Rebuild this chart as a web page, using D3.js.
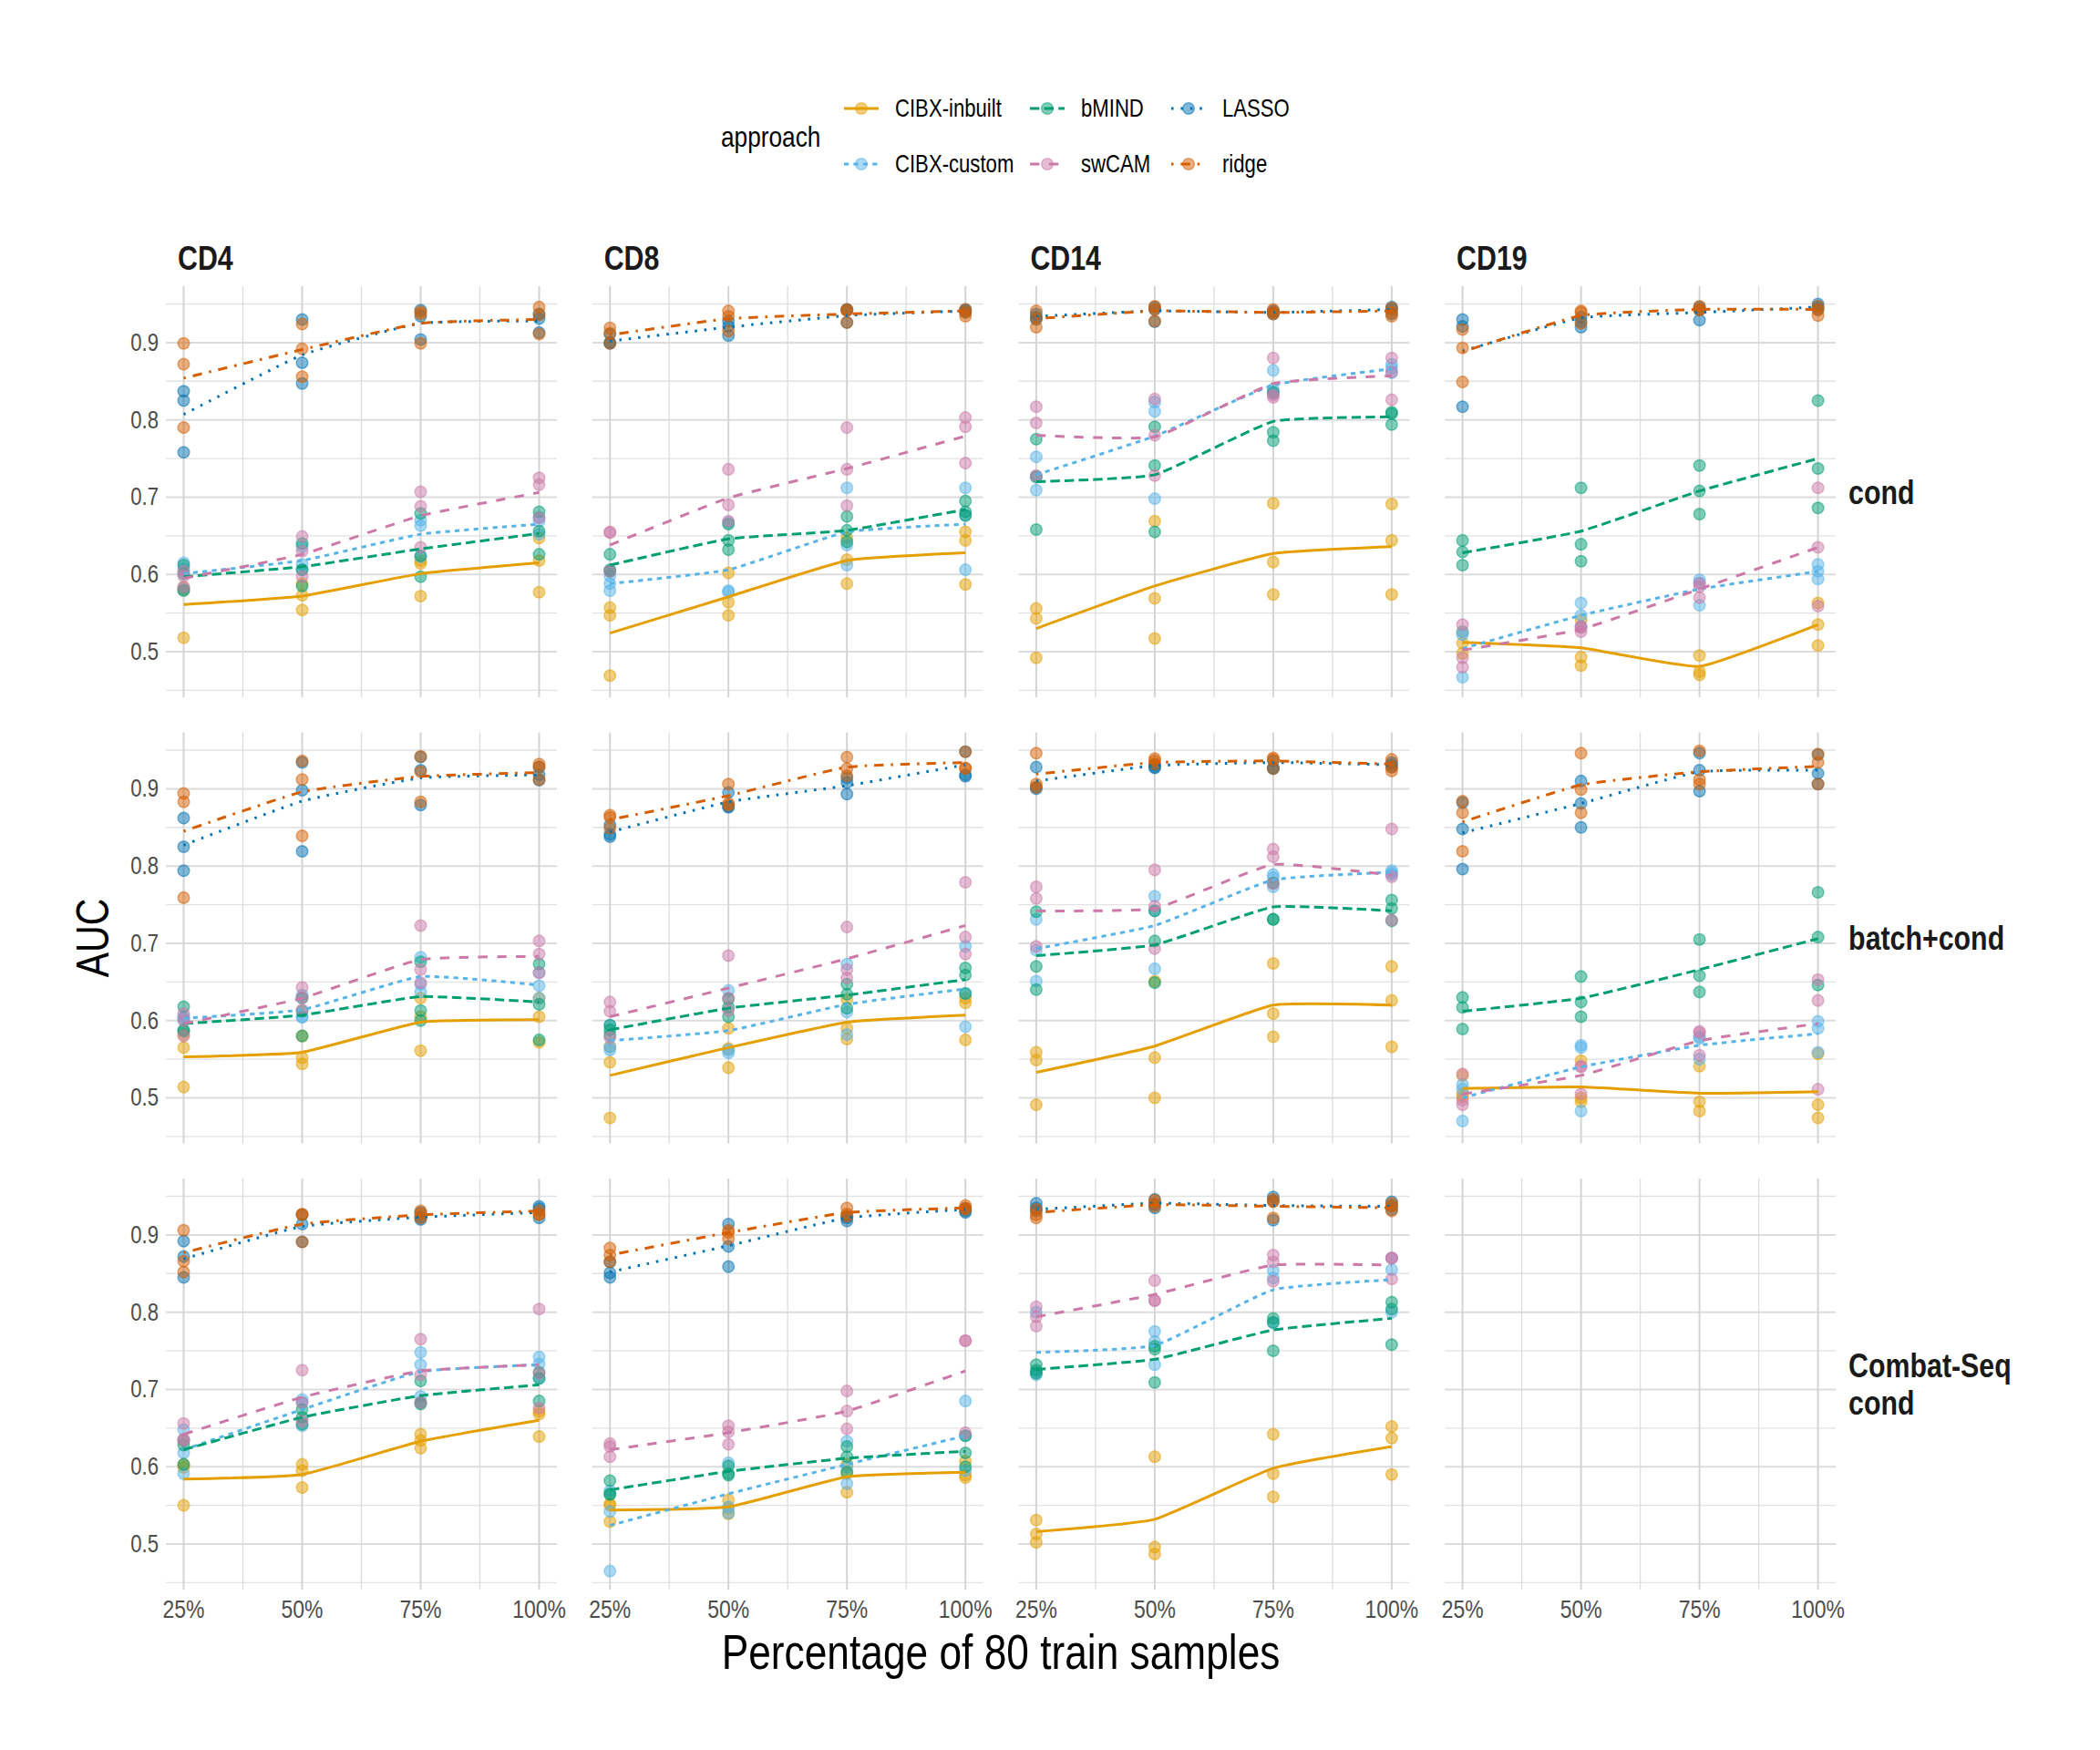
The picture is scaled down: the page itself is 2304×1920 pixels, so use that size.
<!DOCTYPE html>
<html>
<head>
<meta charset="utf-8">
<script src="https://cdn.jsdelivr.net/npm/d3@7"></script>
<style>
    body { margin: 0; background: #fff; }
    svg text { font-family: 'Liberation Sans Narrow', 'Arial Narrow', 'Liberation Sans', sans-serif; }
</style>
</head>
<body>
<svg id="chart" width="2304" height="1920"></svg>
<script>
const approaches = ['CIBX-inbuilt', 'CIBX-custom', 'bMIND', 'swCAM', 'LASSO', 'ridge'];
const cellTypes = ['CD4', 'CD8', 'CD14', 'CD19'];
const corrections = ['cond', 'batch+cond', 'Combat-Seq\ncond'];
const trainPct = [25, 50, 75, 100];
const xTickLabels = ['25%', '50%', '75%', '100%'];
const yTicks = [0.5, 0.6, 0.7, 0.8, 0.9];

// rows follow `approaches`; Mean = mean AUC per train size, Runs = replicate AUCs per train size
const condCD4Mean = [[0.561, 0.572, 0.601, 0.615], [0.601, 0.618, 0.652, 0.665], [0.597, 0.610, 0.633, 0.653],
    [0.595, 0.626, 0.676, 0.706], [0.807, 0.884, 0.925, 0.928], [0.854, 0.891, 0.925, 0.930]];
const condCD4Runs = [
    [[0.583, 0.580, 0.518], [0.588, 0.573, 0.554], [0.618, 0.614, 0.572], [0.647, 0.618, 0.577]],
    [[0.615, 0.607, 0.581], [0.613, 0.606, 0.636], [0.670, 0.663, 0.623], [0.674, 0.669, 0.652]],
    [[0.612, 0.579, 0.601], [0.640, 0.606, 0.585], [0.679, 0.597, 0.624], [0.681, 0.656, 0.626]],
    [[0.604, 0.598, 0.584], [0.649, 0.630, 0.597], [0.707, 0.688, 0.635], [0.725, 0.716, 0.673]],
    [[0.837, 0.825, 0.758], [0.930, 0.874, 0.847], [0.942, 0.934, 0.904], [0.937, 0.931, 0.913]],
    [[0.899, 0.872, 0.790], [0.924, 0.892, 0.856], [0.940, 0.937, 0.899], [0.946, 0.936, 0.911]]];

const condCD8Mean = [[0.524, 0.571, 0.618, 0.628], [0.588, 0.606, 0.655, 0.665], [0.612, 0.646, 0.657, 0.684],
    [0.638, 0.699, 0.737, 0.779], [0.902, 0.920, 0.935, 0.941], [0.910, 0.931, 0.937, 0.941]];
const condCD8Runs = [
    [[0.557, 0.547, 0.469], [0.602, 0.564, 0.547], [0.647, 0.619, 0.588], [0.655, 0.644, 0.587]],
    [[0.598, 0.588, 0.579], [0.667, 0.579, 0.577], [0.712, 0.638, 0.612], [0.712, 0.677, 0.606]],
    [[0.626, 0.606, 0.604], [0.665, 0.644, 0.632], [0.675, 0.657, 0.642], [0.695, 0.681, 0.676]],
    [[0.655, 0.654, 0.604], [0.736, 0.690, 0.669], [0.790, 0.736, 0.689], [0.803, 0.791, 0.744]],
    [[0.900, 0.899, 0.911], [0.928, 0.921, 0.909], [0.943, 0.942, 0.926], [0.943, 0.941, 0.939]],
    [[0.919, 0.912, 0.899], [0.941, 0.934, 0.915], [0.943, 0.941, 0.926], [0.943, 0.939, 0.934]]];

const condCD14Mean = [[0.530, 0.585, 0.627, 0.636], [0.729, 0.779, 0.845, 0.866], [0.720, 0.729, 0.798, 0.804],
    [0.780, 0.778, 0.847, 0.857], [0.934, 0.941, 0.939, 0.943], [0.931, 0.941, 0.939, 0.941]];
const condCD14Runs = [
    [[0.556, 0.543, 0.492], [0.669, 0.569, 0.517], [0.692, 0.616, 0.574], [0.691, 0.644, 0.574]],
    [[0.752, 0.727, 0.709], [0.823, 0.811, 0.698], [0.864, 0.840, 0.834], [0.872, 0.867, 0.861]],
    [[0.775, 0.726, 0.658], [0.791, 0.741, 0.655], [0.836, 0.784, 0.773], [0.810, 0.808, 0.794]],
    [[0.817, 0.796, 0.728], [0.827, 0.780, 0.728], [0.880, 0.832, 0.829], [0.880, 0.862, 0.826]],
    [[0.937, 0.933, 0.930], [0.946, 0.943, 0.927], [0.941, 0.939, 0.937], [0.946, 0.943, 0.937]],
    [[0.941, 0.931, 0.920], [0.947, 0.943, 0.928], [0.943, 0.939, 0.937], [0.945, 0.939, 0.934]]];

const condCD19Mean = [[0.512, 0.505, 0.481, 0.535], [0.504, 0.547, 0.581, 0.604], [0.628, 0.656, 0.708, 0.750],
    [0.502, 0.529, 0.581, 0.635], [0.889, 0.932, 0.939, 0.946], [0.888, 0.935, 0.943, 0.943]];
const condCD19Runs = [
    [[0.526, 0.511, 0.498], [0.541, 0.493, 0.482], [0.495, 0.474, 0.470], [0.563, 0.535, 0.508]],
    [[0.526, 0.522, 0.467], [0.563, 0.547, 0.532], [0.593, 0.589, 0.560], [0.613, 0.604, 0.594]],
    [[0.644, 0.629, 0.612], [0.712, 0.639, 0.617], [0.741, 0.708, 0.678], [0.825, 0.737, 0.686]],
    [[0.535, 0.492, 0.480], [0.533, 0.531, 0.526], [0.588, 0.584, 0.570], [0.712, 0.635, 0.559]],
    [[0.930, 0.921, 0.817], [0.933, 0.927, 0.920], [0.946, 0.943, 0.929], [0.950, 0.946, 0.943]],
    [[0.917, 0.893, 0.849], [0.941, 0.939, 0.925], [0.947, 0.943, 0.942], [0.947, 0.942, 0.935]]];

const batchCD4Mean = [[0.553, 0.559, 0.598, 0.601], [0.603, 0.614, 0.657, 0.646], [0.596, 0.607, 0.631, 0.624],
    [0.596, 0.629, 0.679, 0.683], [0.827, 0.884, 0.914, 0.918], [0.845, 0.896, 0.916, 0.921]];
const batchCD4Runs = [
    [[0.582, 0.565, 0.514], [0.580, 0.552, 0.544], [0.629, 0.605, 0.561], [0.629, 0.605, 0.572]],
    [[0.605, 0.603, 0.602], [0.633, 0.605, 0.604], [0.682, 0.637, 0.647], [0.662, 0.645, 0.629]],
    [[0.618, 0.588, 0.586], [0.629, 0.612, 0.580], [0.676, 0.613, 0.600], [0.673, 0.621, 0.575]],
    [[0.609, 0.600, 0.580], [0.643, 0.630, 0.614], [0.723, 0.666, 0.649], [0.703, 0.686, 0.662]],
    [[0.862, 0.825, 0.794], [0.934, 0.898, 0.819], [0.941, 0.924, 0.879], [0.928, 0.918, 0.911]],
    [[0.894, 0.883, 0.759], [0.936, 0.912, 0.839], [0.942, 0.922, 0.883], [0.932, 0.928, 0.912]]];

const batchCD8Mean = [[0.529, 0.565, 0.598, 0.607], [0.574, 0.587, 0.621, 0.641], [0.588, 0.616, 0.633, 0.653],
    [0.605, 0.642, 0.680, 0.723], [0.844, 0.883, 0.904, 0.931], [0.860, 0.891, 0.928, 0.934]];
const batchCD8Runs = [
    [[0.566, 0.546, 0.474], [0.590, 0.564, 0.539], [0.627, 0.590, 0.576], [0.629, 0.623, 0.575]],
    [[0.594, 0.562, 0.566], [0.639, 0.558, 0.562], [0.673, 0.611, 0.582], [0.696, 0.635, 0.592]],
    [[0.594, 0.588, 0.581], [0.628, 0.617, 0.605], [0.647, 0.634, 0.616], [0.668, 0.659, 0.635]],
    [[0.624, 0.612, 0.578], [0.684, 0.629, 0.613], [0.721, 0.666, 0.655], [0.779, 0.708, 0.686]],
    [[0.853, 0.841, 0.838], [0.895, 0.877, 0.876], [0.914, 0.908, 0.893], [0.948, 0.918, 0.916]],
    [[0.866, 0.863, 0.849], [0.906, 0.881, 0.879], [0.941, 0.926, 0.917], [0.948, 0.927, 0.926]]];

const batchCD14Mean = [[0.533, 0.567, 0.620, 0.620], [0.693, 0.723, 0.782, 0.792], [0.684, 0.698, 0.747, 0.742],
    [0.742, 0.745, 0.802, 0.788], [0.910, 0.930, 0.934, 0.931], [0.919, 0.934, 0.936, 0.932]];
const batchCD14Runs = [
    [[0.559, 0.549, 0.491], [0.651, 0.552, 0.500], [0.674, 0.609, 0.579], [0.670, 0.626, 0.566]],
    [[0.731, 0.691, 0.651], [0.761, 0.742, 0.667], [0.789, 0.785, 0.773], [0.794, 0.791, 0.789]],
    [[0.741, 0.670, 0.640], [0.742, 0.703, 0.649], [0.778, 0.731, 0.731], [0.756, 0.745, 0.729]],
    [[0.773, 0.758, 0.696], [0.795, 0.748, 0.693], [0.822, 0.812, 0.777], [0.848, 0.786, 0.730]],
    [[0.928, 0.902, 0.900], [0.931, 0.928, 0.927], [0.936, 0.927, 0.926], [0.934, 0.931, 0.928]],
    [[0.946, 0.906, 0.902], [0.939, 0.936, 0.932], [0.940, 0.938, 0.926], [0.938, 0.928, 0.923]]];

const batchCD19Mean = [[0.512, 0.514, 0.506, 0.508], [0.500, 0.540, 0.568, 0.583], [0.612, 0.629, 0.666, 0.706],
    [0.505, 0.529, 0.574, 0.596], [0.843, 0.881, 0.922, 0.924], [0.857, 0.905, 0.922, 0.929]];
const batchCD19Runs = [
    [[0.529, 0.505, 0.501], [0.548, 0.500, 0.495], [0.541, 0.495, 0.483], [0.557, 0.491, 0.474]],
    [[0.517, 0.511, 0.470], [0.568, 0.565, 0.483], [0.579, 0.577, 0.550], [0.599, 0.590, 0.559]],
    [[0.630, 0.617, 0.589], [0.657, 0.624, 0.605], [0.705, 0.658, 0.637], [0.766, 0.708, 0.646]],
    [[0.531, 0.497, 0.491], [0.541, 0.540, 0.505], [0.586, 0.584, 0.555], [0.653, 0.626, 0.511]],
    [[0.882, 0.848, 0.796], [0.910, 0.881, 0.850], [0.946, 0.924, 0.897], [0.944, 0.920, 0.906]],
    [[0.884, 0.869, 0.819], [0.946, 0.899, 0.869], [0.949, 0.912, 0.906], [0.945, 0.934, 0.906]]];

const combatCD4Mean = [[0.584, 0.590, 0.633, 0.660], [0.622, 0.674, 0.723, 0.732], [0.622, 0.664, 0.692, 0.706],
    [0.642, 0.690, 0.724, 0.732], [0.869, 0.911, 0.923, 0.929], [0.877, 0.914, 0.926, 0.931]];
const combatCD4Runs = [
    [[0.603, 0.599, 0.550], [0.603, 0.595, 0.573], [0.642, 0.634, 0.624], [0.672, 0.668, 0.639]],
    [[0.648, 0.618, 0.591], [0.687, 0.683, 0.653], [0.748, 0.732, 0.691], [0.742, 0.733, 0.715]],
    [[0.634, 0.628, 0.603], [0.674, 0.664, 0.655], [0.711, 0.683, 0.681], [0.722, 0.714, 0.685]],
    [[0.656, 0.636, 0.634], [0.725, 0.683, 0.659], [0.765, 0.719, 0.683], [0.804, 0.721, 0.676]],
    [[0.892, 0.872, 0.845], [0.926, 0.914, 0.891], [0.929, 0.923, 0.920], [0.937, 0.934, 0.922]],
    [[0.906, 0.866, 0.852], [0.927, 0.926, 0.891], [0.931, 0.927, 0.922], [0.931, 0.927, 0.926]]];

const combatCD8Mean = [[0.544, 0.548, 0.587, 0.593], [0.524, 0.565, 0.603, 0.640], [0.570, 0.594, 0.611, 0.620],
    [0.622, 0.644, 0.672, 0.724], [0.852, 0.886, 0.922, 0.933], [0.874, 0.903, 0.929, 0.935]];
const combatCD8Runs = [
    [[0.552, 0.550, 0.529], [0.557, 0.546, 0.539], [0.603, 0.591, 0.567], [0.607, 0.589, 0.586]],
    [[0.569, 0.542, 0.465], [0.605, 0.548, 0.540], [0.633, 0.600, 0.578], [0.685, 0.640, 0.595]],
    [[0.582, 0.565, 0.564], [0.601, 0.591, 0.589], [0.626, 0.613, 0.593], [0.640, 0.618, 0.600]],
    [[0.630, 0.626, 0.613], [0.653, 0.645, 0.629], [0.698, 0.672, 0.649], [0.763, 0.763, 0.644]],
    [[0.865, 0.851, 0.845], [0.914, 0.885, 0.859], [0.924, 0.922, 0.918], [0.934, 0.931, 0.929]],
    [[0.883, 0.874, 0.865], [0.906, 0.903, 0.895], [0.935, 0.927, 0.924], [0.938, 0.935, 0.933]]];

const combatCD14Mean = [[0.516, 0.532, 0.598, 0.626], [0.748, 0.757, 0.829, 0.842], [0.726, 0.739, 0.777, 0.792],
    [0.794, 0.823, 0.861, 0.861], [0.933, 0.941, 0.938, 0.937], [0.929, 0.939, 0.937, 0.935]];
const combatCD14Runs = [
    [[0.531, 0.513, 0.502], [0.613, 0.496, 0.487], [0.642, 0.591, 0.561], [0.652, 0.637, 0.590]],
    [[0.800, 0.722, 0.719], [0.775, 0.762, 0.732], [0.854, 0.844, 0.786], [0.870, 0.855, 0.800]],
    [[0.732, 0.725, 0.721], [0.756, 0.752, 0.709], [0.792, 0.787, 0.750], [0.813, 0.804, 0.758]],
    [[0.807, 0.794, 0.782], [0.841, 0.815, 0.815], [0.874, 0.865, 0.840], [0.870, 0.870, 0.843]],
    [[0.941, 0.935, 0.931], [0.946, 0.939, 0.935], [0.949, 0.944, 0.919], [0.943, 0.938, 0.933]],
    [[0.933, 0.926, 0.922], [0.945, 0.941, 0.937], [0.946, 0.943, 0.922], [0.941, 0.937, 0.931]]];

// facet cells: row = correction, col = cell type (Combat-Seq / CD19 has no data)
const panels = [
    { row: 0, col: 0, mean: condCD4Mean, runs: condCD4Runs },
    { row: 0, col: 1, mean: condCD8Mean, runs: condCD8Runs },
    { row: 0, col: 2, mean: condCD14Mean, runs: condCD14Runs },
    { row: 0, col: 3, mean: condCD19Mean, runs: condCD19Runs },
    { row: 1, col: 0, mean: batchCD4Mean, runs: batchCD4Runs },
    { row: 1, col: 1, mean: batchCD8Mean, runs: batchCD8Runs },
    { row: 1, col: 2, mean: batchCD14Mean, runs: batchCD14Runs },
    { row: 1, col: 3, mean: batchCD19Mean, runs: batchCD19Runs },
    { row: 2, col: 0, mean: combatCD4Mean, runs: combatCD4Runs },
    { row: 2, col: 1, mean: combatCD8Mean, runs: combatCD8Runs },
    { row: 2, col: 2, mean: combatCD14Mean, runs: combatCD14Runs },
];

// styling
const colors = ['#E69F00', '#56B4E9', '#009E73', '#CC79A7', '#0072B2', '#D55E00'];
const dashUnit = 2.6;
const dashes = [[], [2, 2], [4, 2], [4, 4], [1, 3], [1, 3, 4, 3]].map((d) => d.map((v) => v * dashUnit).join(' '));
// no narrow font installed: squeeze text horizontally instead
const narrow = 'scale(0.82,1)';

const panelW = 429;
const panelH = 451;
const left0 = 182;
const top0 = 314;
const colStep = 467.7;
const rowStep = 489.5;

const xScale = d3.scaleLinear().domain([21.25, 103.75]).range([0, panelW]);
const yScale = d3.scaleLinear().domain([0.441, 0.973]).range([panelH, 0]);

const svg = d3.select('#chart');
svg.append('rect').attr('width', 2304).attr('height', 1920).attr('fill', '#fff');

const line = d3
    .line()
    .x((d) => xScale(d[0]))
    .y((d) => yScale(d[1]))
    .curve(d3.curveCardinal.tension(0.6));

const minorY = d3.range(0.45, 0.96, 0.1);
const minorX = [37.5, 62.5, 87.5];

// draw every cell of the grid (also the empty one)
for (let r = 0; r < corrections.length; r++) {
    for (let c = 0; c < cellTypes.length; c++) {
        const g = svg
            .append('g')
            .attr('class', 'panel')
            .attr('transform', `translate(${left0 + c * colStep},${top0 + r * rowStep})`);

        // grid lines
        g.selectAll('line.minor-y').data(minorY).join('line')
            .attr('x1', 0).attr('x2', panelW)
            .attr('y1', (d) => yScale(d)).attr('y2', (d) => yScale(d))
            .attr('stroke', '#e2e2e2').attr('stroke-width', 1.3);
        g.selectAll('line.minor-x').data(minorX).join('line')
            .attr('y1', 0).attr('y2', panelH)
            .attr('x1', (d) => xScale(d)).attr('x2', (d) => xScale(d))
            .attr('stroke', '#dcdcdc').attr('stroke-width', 1.3);
        g.selectAll('line.major-y').data(yTicks).join('line')
            .attr('x1', 0).attr('x2', panelW)
            .attr('y1', (d) => yScale(d)).attr('y2', (d) => yScale(d))
            .attr('stroke', '#dcdcdc').attr('stroke-width', 2);
        g.selectAll('line.major-x').data(trainPct).join('line')
            .attr('y1', 0).attr('y2', panelH)
            .attr('x1', (d) => xScale(d)).attr('x2', (d) => xScale(d))
            .attr('stroke', '#d4d4d4').attr('stroke-width', 2);

        // y tick labels on the first column
        if (c === 0) {
            g.selectAll('text.ytick').data(yTicks).join('text')
                .attr('transform', (d) => `translate(-8,${yScale(d) + 9}) ${narrow}`)
                .attr('text-anchor', 'end')
                .attr('font-size', '27px')
                .attr('fill', '#4d4d4d')
                .text((d) => d.toFixed(1));
        }

        // x tick labels on the bottom row
        if (r === corrections.length - 1) {
            g.selectAll('text.xtick').data(trainPct).join('text')
                .attr('transform', (d) => `translate(${xScale(d)},${panelH + 31}) ${narrow}`)
                .attr('text-anchor', 'middle')
                .attr('font-size', '28px')
                .attr('fill', '#4d4d4d')
                .text((d, i) => xTickLabels[i]);
        }

        // column strip
        if (r === 0) {
            g.append('text')
                .attr('transform', `translate(13,-18) ${narrow}`)
                .attr('font-size', '37px')
                .attr('font-weight', 'bold')
                .attr('fill', '#1a1a1a')
                .text(cellTypes[c]);
        }

        // row strip
        if (c === cellTypes.length - 1) {
            const parts = corrections[r].split('\n');
            g.append('text')
                .attr('transform', `translate(${panelW + 14},${panelH / 2 + 13 - ((parts.length - 1) * 42) / 2}) ${narrow}`)
                .attr('font-size', '37px')
                .attr('font-weight', 'bold')
                .attr('fill', '#1a1a1a')
                .selectAll('tspan')
                .data(parts)
                .join('tspan')
                .attr('x', 0)
                .attr('dy', (d, i) => (i === 0 ? 0 : 42))
                .text((d) => d);
        }
    }
}

// points and mean lines
panels.forEach((p) => {
    const g = svg
        .append('g')
        .attr('transform', `translate(${left0 + p.col * colStep},${top0 + p.row * rowStep})`);

    approaches.forEach((a, i) => {
        const pts = [];
        p.runs[i].forEach((vals, j) => vals.forEach((v) => pts.push([trainPct[j], v])));
        g.selectAll(null).data(pts).join('circle')
            .attr('cx', (d) => xScale(d[0]))
            .attr('cy', (d) => yScale(d[1]))
            .attr('r', 6.3)
            .attr('fill', colors[i])
            .attr('fill-opacity', 0.5)
            .attr('stroke', colors[i])
            .attr('stroke-opacity', 0.5)
            .attr('stroke-width', 1.5);
    });

    approaches.forEach((a, i) => {
        g.append('path')
            .datum(trainPct.map((t, j) => [t, p.mean[i][j]]))
            .attr('d', line)
            .attr('fill', 'none')
            .attr('stroke', colors[i])
            .attr('stroke-width', 3)
            .attr('stroke-dasharray', dashes[i]);
    });
});

// axis titles
svg.append('text')
    .attr('transform', `translate(${left0 + (3 * colStep + panelW) / 2},1831) ${narrow}`)
    .attr('text-anchor', 'middle')
    .attr('font-size', '54px')
    .attr('fill', '#000')
    .text('Percentage of 80 train samples');

svg.append('text')
    .attr('transform', `translate(119,${top0 + (2 * rowStep + panelH) / 2}) rotate(-90) ${narrow}`)
    .attr('text-anchor', 'middle')
    .attr('font-size', '50px')
    .attr('fill', '#000')
    .text('AUC');

// legend (filled column by column, two rows)
const legend = svg.append('g').attr('class', 'legend');
legend.append('text')
    .attr('transform', `translate(791,161) ${narrow}`)
    .attr('font-size', '32px')
    .attr('fill', '#000')
    .text('approach');

const keyX = [945, 1149, 1304];
const keyY = [119, 180];
const item = legend.selectAll('g.item').data(approaches).join('g')
    .attr('class', 'item')
    .attr('transform', (d, i) => `translate(${keyX[Math.floor(i / 2)]},${keyY[i % 2]})`);

item.append('line')
    .attr('x1', -19).attr('x2', 19)
    .attr('stroke', (d, i) => colors[i])
    .attr('stroke-width', 3)
    .attr('stroke-dasharray', (d, i) => dashes[i]);
item.append('circle')
    .attr('r', 6.3)
    .attr('fill', (d, i) => colors[i])
    .attr('fill-opacity', 0.5)
    .attr('stroke', (d, i) => colors[i])
    .attr('stroke-opacity', 0.5)
    .attr('stroke-width', 1.5);
item.append('text')
    .attr('transform', `translate(37,9) ${narrow}`)
    .attr('font-size', '27px')
    .attr('fill', '#000')
    .text((d) => d);
</script>
</body>
</html>
